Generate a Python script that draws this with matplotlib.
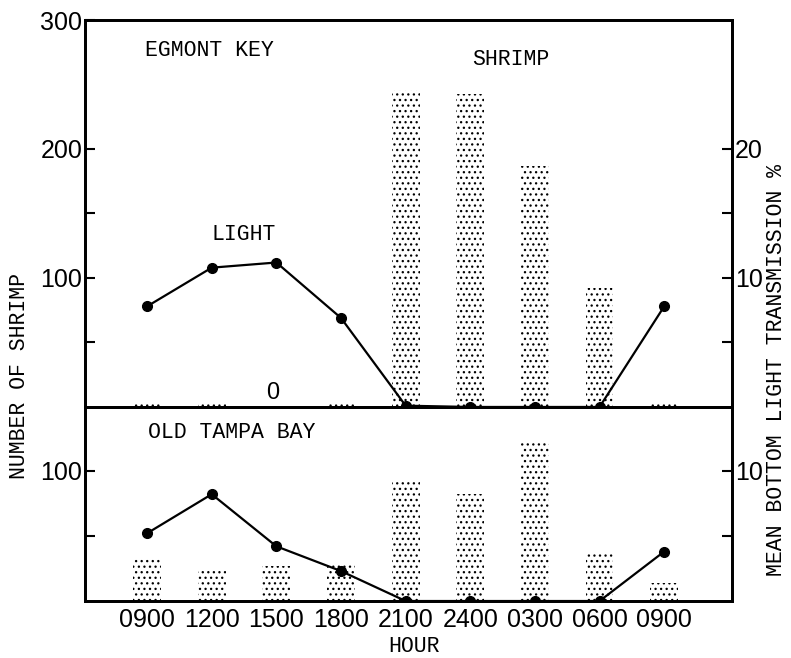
import matplotlib
matplotlib.use("Agg")
import matplotlib.pyplot as plt

hours = ["0900", "1200", "1500", "1800", "2100", "2400", "0300", "0600", "0900"]

# Egmont Key (top panel)
shrimp_egmont = [2, 2, 0, 2, 246, 243, 187, 92, 3]
light_egmont = [7.8, 10.8, 11.2, 6.9, 0.1, 0, 0, 0, 7.8]

# Old Tampa Bay (bottom panel)
shrimp_tampa = [33, 25, 27, 29, 92, 82, 121, 36, 14]
light_tampa = [5.2, 8.2, 4.2, 2.3, 0, 0, 0, 0, 3.8]

plt.rcParams["hatch.linewidth"] = 0.9
mono = "Liberation Mono"
sans = "Liberation Sans"

fig = plt.figure(figsize=(7.91, 6.58), dpi=100)
L, W = 0.1075, 0.818
ax_top = fig.add_axes([L, 0.3815, W, 0.5881])
ax_bot = fig.add_axes([L, 0.0866, W, 0.2949])

x = list(range(len(hours)))


def panel(ax, shrimp, light, ymax, ymaj, ymin, rmaj, rmin):
    ax.bar(x, shrimp, width=0.43, color="white", edgecolor="black",
           linewidth=0, hatch="...", zorder=1)
    ax.set_xlim(-0.96, 8 + 1.05)
    ax.set_ylim(0, ymax)
    ax.set_yticks(ymaj)
    ax.set_yticks(ymin, minor=True)
    ax.tick_params(axis="y", which="both", direction="in", length=7,
                   width=1.5, pad=2, labelsize=18)
    ax.tick_params(axis="x", length=0)
    for s in ax.spines.values():
        s.set_linewidth(2)
    for t in ax.get_yticklabels():
        t.set_fontfamily(sans)

    rx = ax.twinx()
    rx.set_ylim(0, ymax / 10)
    rx.plot(x, light, color="black", lw=1.6, marker="o", ms=7, zorder=3)
    rx.set_yticks(rmaj)
    rx.set_yticks(rmin, minor=True)
    rx.tick_params(axis="y", which="both", direction="in", length=7,
                   width=1.5, pad=2, labelsize=18)
    for t in rx.get_yticklabels():
        t.set_fontfamily(sans)
    for s in rx.spines.values():
        s.set_linewidth(2)
    return rx


panel(ax_top, shrimp_egmont, light_egmont, 300, [100, 200, 300], [50, 150],
      [10, 20], [5, 15])
panel(ax_bot, shrimp_tampa, light_tampa, 149, [100], [50], [10], [5])

ax_top.set_xticks(x)
ax_top.set_xticklabels([])
ax_bot.set_xticks(x)
ax_bot.set_xticklabels(hours, fontsize=18, fontfamily=sans)
ax_bot.tick_params(axis="x", pad=5)

tkw = dict(fontfamily=mono, fontsize=15.5, color="black")
fig.text(0.183, 0.924, "EGMONT KEY", va="center", **tkw)
fig.text(0.597, 0.909, "SHRIMP", va="center", **tkw)
fig.text(0.268, 0.643, "LIGHT", va="center", **tkw)
fig.text(0.187, 0.343, "OLD TAMPA BAY", va="center", **tkw)
fig.text(0.345, 0.403, "0", va="center", ha="center", fontfamily=sans,
         fontsize=17)
fig.text(0.523, 0.018, "HOUR", va="center", ha="center", **tkw)
fig.text(0.025, 0.429, "NUMBER OF SHRIMP", va="center", ha="center",
         rotation=90, **tkw)
fig.text(0.982, 0.438, "MEAN BOTTOM LIGHT TRANSMISSION %", va="center",
         ha="center", rotation=90, **tkw)

fig.savefig("out.png", dpi=100)
